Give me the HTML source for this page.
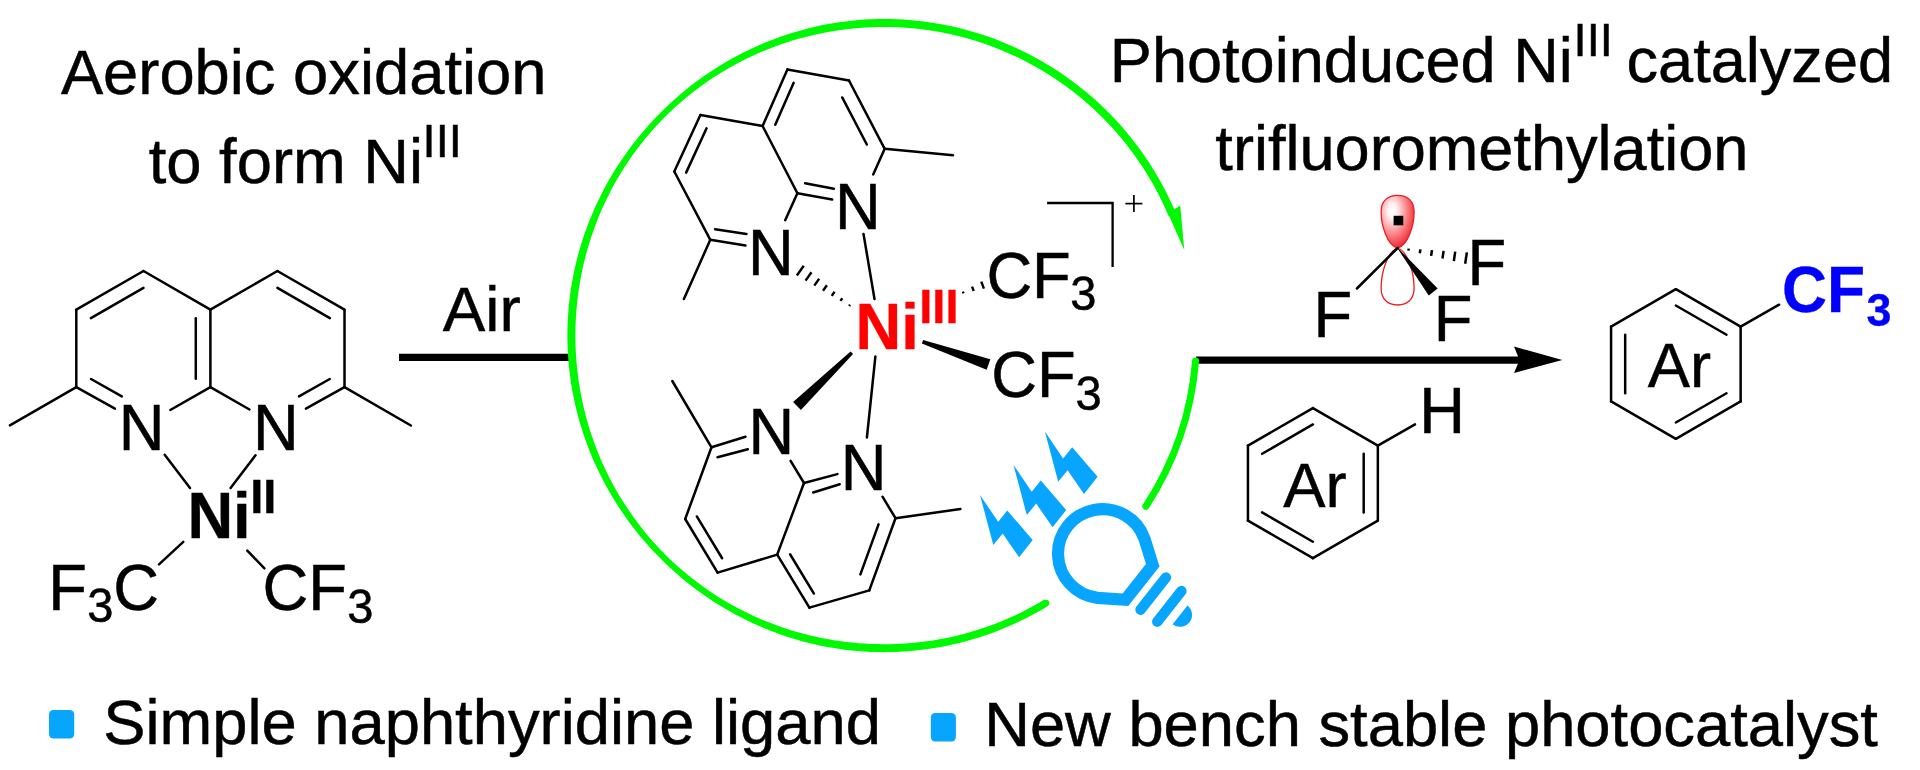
<!DOCTYPE html>
<html><head><meta charset="utf-8"><title>Ni(III) photocatalyst</title>
<style>html,body{margin:0;padding:0;background:#fff;overflow:hidden}svg{display:block;will-change:transform}text{font-kerning:none;white-space:pre;font-family:"Liberation Sans",sans-serif}</style>
</head><body>
<svg width="1920" height="770" viewBox="0 0 1920 770">
<rect width="1920" height="770" fill="#fff"/>
<text transform="translate(60.90,93.70)" font-size="63.3" stroke="#000" stroke-width="0.5">Aerobic oxidation</text>
<text transform="translate(148.75,183.30)" font-size="63.3" stroke="#000" stroke-width="0.5">to form Ni<tspan x="273.85" y="-26.50" font-size="47.0">III</tspan></text>
<text transform="translate(1109.80,81.80)" font-size="63.1" stroke="#000" stroke-width="0.5">Photoinduced Ni<tspan x="463.80" y="-25.40" font-size="47.0">III</tspan><tspan x="499.20" y="0.00" font-size="63.1"> catalyzed</tspan></text>
<text transform="translate(1215.35,170.20)" font-size="63.1" stroke="#000" stroke-width="0.5">trifluoromethylation</text>
<rect x="49" y="710" width="25.2" height="28.6" rx="4.5" fill="#08a5ff"/>
<rect x="930.8" y="713" width="25.1" height="28.6" rx="4.5" fill="#08a5ff"/>
<text transform="translate(103.25,743.75)" font-size="63.3" stroke="#000" stroke-width="0.5">Simple naphthyridine ligand</text>
<text transform="translate(984.20,746.00)" font-size="63.3" stroke="#000" stroke-width="0.5">New bench stable photocatalyst</text>
<line x1="76.30" y1="309.70" x2="143.50" y2="271.00" stroke="#000" stroke-width="2.5" stroke-linecap="round"/>
<line x1="143.50" y1="271.00" x2="210.40" y2="309.70" stroke="#000" stroke-width="2.5" stroke-linecap="round"/>
<line x1="210.40" y1="309.70" x2="210.40" y2="387.10" stroke="#000" stroke-width="2.5" stroke-linecap="round"/>
<line x1="76.30" y1="309.70" x2="76.30" y2="387.10" stroke="#000" stroke-width="2.5" stroke-linecap="round"/>
<line x1="210.40" y1="309.70" x2="277.40" y2="271.00" stroke="#000" stroke-width="2.5" stroke-linecap="round"/>
<line x1="277.40" y1="271.00" x2="344.50" y2="309.70" stroke="#000" stroke-width="2.5" stroke-linecap="round"/>
<line x1="344.50" y1="309.70" x2="344.50" y2="387.10" stroke="#000" stroke-width="2.5" stroke-linecap="round"/>
<line x1="76.30" y1="387.10" x2="114.90" y2="408.60" stroke="#000" stroke-width="2.5" stroke-linecap="round"/>
<line x1="210.40" y1="387.10" x2="170.30" y2="410.00" stroke="#000" stroke-width="2.5" stroke-linecap="round"/>
<line x1="210.40" y1="387.10" x2="249.50" y2="409.50" stroke="#000" stroke-width="2.5" stroke-linecap="round"/>
<line x1="344.50" y1="387.10" x2="305.90" y2="408.60" stroke="#000" stroke-width="2.5" stroke-linecap="round"/>
<line x1="90.93" y1="318.14" x2="143.48" y2="287.87" stroke="#000" stroke-width="2.5" stroke-linecap="round"/>
<line x1="277.40" y1="287.87" x2="329.87" y2="318.14" stroke="#000" stroke-width="2.5" stroke-linecap="round"/>
<line x1="195.79" y1="318.14" x2="195.79" y2="378.66" stroke="#000" stroke-width="2.5" stroke-linecap="round"/>
<line x1="91.00" y1="379.00" x2="121.80" y2="396.40" stroke="#000" stroke-width="2.5" stroke-linecap="round"/>
<line x1="329.80" y1="379.00" x2="299.00" y2="396.40" stroke="#000" stroke-width="2.5" stroke-linecap="round"/>
<line x1="76.30" y1="387.10" x2="9.90" y2="425.30" stroke="#000" stroke-width="2.5" stroke-linecap="round"/>
<line x1="344.50" y1="387.10" x2="410.90" y2="425.50" stroke="#000" stroke-width="2.5" stroke-linecap="round"/>
<line x1="164.70" y1="454.70" x2="190.00" y2="487.90" stroke="#000" stroke-width="2.5" stroke-linecap="round"/>
<line x1="255.50" y1="455.30" x2="230.60" y2="487.90" stroke="#000" stroke-width="2.5" stroke-linecap="round"/>
<line x1="183.30" y1="541.80" x2="159.00" y2="564.30" stroke="#000" stroke-width="2.5" stroke-linecap="round"/>
<line x1="247.30" y1="550.60" x2="264.40" y2="568.30" stroke="#000" stroke-width="2.5" stroke-linecap="round"/>
<text transform="translate(118.85,450.00) scale(1,1.036)" font-size="63.3" stroke="#000" stroke-width="0.5">N</text>
<text transform="translate(252.95,450.00) scale(1,1.036)" font-size="63.3" stroke="#000" stroke-width="0.5">N</text>
<text transform="translate(187.40,538.40) scale(1,1.02)" font-size="63.3" font-weight="bold" stroke="#000" stroke-width="0.35">Ni<tspan x="62.90" y="-24.51" font-size="47.0">II</tspan></text>
<text transform="translate(48.15,609.80) scale(1,1.036)" font-size="63.3" stroke="#000" stroke-width="0.5">F<tspan x="39.15" y="11.97" font-size="47.0">3</tspan><tspan x="65.15" y="0.00" font-size="63.3">C</tspan></text>
<text transform="translate(262.60,610.20) scale(1,1.036)" font-size="63.3" stroke="#000" stroke-width="0.5">CF<tspan x="84.70" y="11.87" font-size="47.0">3</tspan></text>
<line x1="399.00" y1="357.40" x2="569.00" y2="357.40" stroke="#000" stroke-width="7.1" stroke-linecap="butt"/>
<text transform="translate(442.80,331.00)" font-size="63.8" stroke="#000" stroke-width="0.5">Air</text>
<line x1="1196.00" y1="360.20" x2="1525.00" y2="360.20" stroke="#000" stroke-width="7.2" stroke-linecap="butt"/>
<polygon points="1562.30,359.90 1514.00,346.60 1519.50,359.90 1514.00,372.90" fill="#000"/>
<path d="M1047.83,606.11 L1042.32,609.38 L1036.75,612.54 L1031.11,615.59 L1025.42,618.52 L1019.66,621.34 L1013.85,624.03 L1007.99,626.62 L1002.08,629.08 L996.11,631.42 L990.10,633.64 L984.05,635.74 L977.95,637.71 L971.82,639.56 L965.65,641.29 L959.44,642.89 L953.21,644.37 L946.94,645.72 L940.65,646.94 L934.34,648.03 L928.00,649.00 L921.64,649.84 L915.27,650.55 L908.89,651.13 L902.50,651.58 L896.09,651.90 L889.69,652.09 L883.27,652.20 L876.86,652.12 L870.45,651.90 L864.05,651.56 L857.66,651.08 L851.28,650.47 L844.91,649.72 L838.56,648.85 L832.23,647.84 L825.92,646.71 L819.63,645.44 L813.38,644.05 L807.15,642.53 L800.96,640.88 L794.81,639.10 L788.69,637.20 L782.61,635.18 L776.58,633.03 L770.59,630.76 L764.65,628.37 L758.76,625.86 L752.92,623.23 L747.14,620.48 L741.41,617.62 L735.75,614.64 L730.14,611.56 L724.60,608.36 L719.13,605.05 L713.72,601.63 L708.38,598.10 L703.11,594.47 L697.92,590.74 L692.81,586.90 L687.77,582.96 L682.81,578.93 L677.93,574.79 L673.13,570.56 L668.42,566.24 L663.80,561.83 L659.26,557.32 L654.82,552.72 L650.46,548.04 L646.20,543.27 L642.04,538.42 L637.97,533.49 L634.00,528.48 L630.13,523.39 L626.36,518.22 L622.69,512.98 L619.13,507.66 L615.68,502.28 L612.33,496.82 L609.10,491.31 L605.97,485.72 L602.96,480.08 L600.06,474.37 L597.27,468.61 L594.60,462.79 L592.05,456.91 L589.62,450.99 L587.31,445.02 L585.12,439.00 L583.06,432.93 L581.12,426.83 L579.30,420.69 L577.61,414.51 L576.04,408.29 L574.61,402.05 L573.30,395.77 L572.12,389.47 L571.07,383.15 L570.15,376.80 L569.37,370.44 L568.71,364.06 L568.19,357.67 L567.80,351.27 L567.54,344.87 L567.41,338.45 L567.42,332.04 L567.56,325.63 L567.83,319.23 L568.24,312.83 L568.78,306.44 L569.45,300.06 L570.25,293.70 L571.18,287.36 L572.24,281.04 L573.44,274.74 L574.76,268.47 L576.21,262.23 L577.79,256.02 L579.49,249.84 L581.32,243.70 L583.28,237.60 L585.36,231.54 L587.56,225.53 L589.88,219.56 L592.33,213.64 L594.89,207.77 L597.57,201.96 L600.37,196.20 L603.28,190.50 L606.31,184.86 L609.44,179.29 L612.69,173.77 L616.05,168.33 L619.52,162.95 L623.09,157.65 L626.77,152.41 L630.55,147.25 L634.43,142.17 L638.41,137.17 L642.49,132.24 L646.66,127.40 L650.93,122.64 L655.30,117.97 L659.75,113.38 L664.30,108.89 L668.93,104.48 L673.65,100.17 L678.46,95.95 L683.35,91.83 L688.31,87.80 L693.36,83.87 L698.49,80.05 L703.69,76.33 L708.96,72.71 L714.31,69.19 L719.72,65.79 L725.20,62.49 L730.75,59.30 L736.36,56.22 L742.04,53.26 L747.77,50.41 L753.56,47.68 L759.40,45.06 L765.30,42.57 L771.24,40.19 L777.24,37.93 L783.27,35.80 L789.36,33.78 L795.48,31.90 L801.64,30.14 L807.83,28.50 L814.06,26.99 L820.32,25.61 L826.61,24.36 L832.92,23.24 L839.25,22.25 L845.61,21.39 L851.97,20.66 L858.36,20.06 L864.75,19.60 L871.16,19.27 L877.57,19.07 L883.98,19.00 L890.39,19.07 L896.80,19.26 L903.20,19.59 L909.60,20.04 L915.98,20.63 L922.35,21.34 L928.71,22.19 L935.05,23.16 L941.36,24.26 L947.66,25.48 L953.92,26.84 L960.16,28.32 L966.37,29.93 L972.54,31.66 L978.68,33.52 L984.78,35.50 L990.83,37.60 L996.85,39.83 L1002.81,42.17 L1008.73,44.64 L1014.60,47.23 L1020.41,49.94 L1026.16,52.76 L1031.86,55.70 L1037.50,58.75 L1043.07,61.92 L1048.58,65.20 L1054.02,68.59 L1059.40,72.09 L1064.70,75.69 L1069.92,79.41 L1075.07,83.23 L1080.14,87.15 L1085.13,91.17 L1090.04,95.30 L1094.86,99.52 L1099.60,103.84 L1104.25,108.26 L1108.80,112.76 L1113.27,117.36 L1117.64,122.05 L1121.92,126.83 L1126.09,131.69 L1130.17,136.64 L1134.15,141.67 L1138.03,146.77 L1141.80,151.96 L1145.46,157.22 L1149.02,162.55 L1152.47,167.95 L1155.81,173.42 L1159.03,178.96 L1162.15,184.57 L1165.15,190.23 L1168.03,195.95 L1170.80,201.74 L1173.45,207.57 L1175.98,213.46 L1168.79,216.47 L1166.32,210.73 L1163.73,205.04 L1161.02,199.40 L1158.21,193.82 L1155.28,188.30 L1152.24,182.83 L1149.09,177.43 L1145.83,172.10 L1142.46,166.83 L1138.99,161.63 L1135.41,156.50 L1131.73,151.45 L1127.95,146.47 L1124.07,141.57 L1120.09,136.75 L1116.01,132.01 L1111.84,127.35 L1107.58,122.78 L1103.22,118.30 L1098.77,113.91 L1094.24,109.60 L1089.62,105.39 L1084.91,101.28 L1080.12,97.26 L1075.26,93.34 L1070.31,89.52 L1065.29,85.80 L1060.19,82.18 L1055.02,78.66 L1049.78,75.25 L1044.47,71.95 L1039.10,68.76 L1033.66,65.67 L1028.16,62.70 L1022.61,59.83 L1016.99,57.09 L1011.33,54.45 L1005.60,51.93 L999.83,49.53 L994.02,47.24 L988.15,45.08 L982.25,43.03 L976.30,41.10 L970.32,39.29 L964.30,37.61 L958.25,36.04 L952.17,34.60 L946.06,33.29 L939.92,32.09 L933.76,31.02 L927.58,30.08 L921.39,29.26 L915.18,28.57 L908.95,28.00 L902.72,27.56 L896.47,27.25 L890.23,27.06 L883.98,27.00 L877.73,27.06 L871.48,27.25 L865.24,27.56 L859.00,27.99 L852.78,28.55 L846.56,29.23 L840.36,30.03 L834.18,30.96 L828.02,32.00 L821.88,33.18 L815.76,34.47 L809.67,35.88 L803.60,37.42 L797.57,39.08 L791.57,40.86 L785.61,42.76 L779.69,44.78 L773.81,46.92 L767.97,49.17 L762.18,51.55 L756.44,54.04 L750.75,56.65 L745.11,59.37 L739.53,62.21 L734.00,65.16 L728.54,68.23 L723.14,71.41 L717.81,74.69 L712.55,78.09 L707.35,81.60 L702.23,85.21 L697.19,88.92 L692.22,92.74 L687.33,96.66 L682.52,100.69 L677.80,104.81 L673.16,109.03 L668.62,113.34 L664.16,117.75 L659.79,122.25 L655.52,126.83 L651.35,131.51 L647.27,136.27 L643.29,141.11 L639.42,146.04 L635.64,151.04 L631.97,156.12 L628.41,161.27 L624.95,166.50 L621.60,171.80 L618.37,177.16 L615.24,182.59 L612.22,188.08 L609.32,193.63 L606.54,199.23 L603.86,204.90 L601.31,210.61 L598.87,216.37 L596.54,222.19 L594.34,228.04 L592.26,233.94 L590.29,239.88 L588.44,245.86 L586.72,251.88 L585.12,257.92 L583.63,264.00 L582.27,270.10 L581.03,276.23 L579.92,282.38 L578.92,288.55 L578.05,294.74 L577.31,300.95 L576.68,307.17 L576.18,313.40 L575.80,319.64 L575.55,325.88 L575.42,332.13 L575.41,338.38 L575.53,344.63 L575.77,350.88 L576.13,357.12 L576.62,363.35 L577.23,369.57 L577.97,375.78 L578.82,381.97 L579.80,388.14 L580.91,394.30 L582.13,400.43 L583.48,406.54 L584.95,412.62 L586.54,418.66 L588.25,424.68 L590.08,430.66 L592.03,436.61 L594.11,442.51 L596.30,448.37 L598.61,454.19 L601.03,459.96 L603.58,465.68 L606.24,471.35 L609.01,476.96 L611.90,482.52 L614.90,488.02 L618.02,493.45 L621.24,498.82 L624.58,504.12 L628.03,509.36 L631.58,514.52 L635.23,519.61 L639.00,524.62 L642.86,529.55 L646.83,534.40 L650.90,539.17 L655.06,543.86 L659.32,548.46 L663.68,552.96 L668.12,557.38 L672.66,561.71 L677.29,565.93 L682.00,570.07 L686.80,574.10 L691.68,578.03 L696.64,581.86 L701.68,585.59 L706.79,589.21 L711.97,592.73 L717.23,596.14 L722.56,599.44 L727.95,602.63 L733.40,605.71 L738.92,608.67 L744.50,611.52 L750.13,614.26 L755.81,616.88 L761.55,619.39 L767.34,621.77 L773.17,624.04 L779.05,626.19 L784.96,628.23 L790.92,630.14 L796.91,631.93 L802.94,633.60 L809.00,635.15 L815.09,636.58 L821.20,637.89 L827.34,639.07 L833.50,640.14 L839.69,641.08 L845.88,641.89 L852.10,642.58 L858.32,643.15 L864.55,643.60 L870.80,643.92 L877.04,644.12 L883.29,644.20 L889.54,644.21 L895.79,644.05 L902.04,643.75 L908.28,643.34 L914.50,642.79 L920.72,642.12 L926.92,641.33 L933.11,640.41 L939.27,639.36 L945.41,638.19 L951.53,636.90 L957.62,635.48 L963.68,633.94 L969.71,632.27 L975.71,630.49 L981.66,628.58 L987.58,626.55 L993.45,624.40 L999.28,622.14 L1005.07,619.76 L1010.80,617.26 L1016.49,614.64 L1022.11,611.91 L1027.69,609.07 L1033.20,606.11 L1038.65,603.04 L1044.04,599.86 Z" fill="#00f900"/>
<circle cx="1045.94" cy="602.99" r="3.3" fill="#00f900"/>
<polygon points="1184.30,250.00 1168.00,213.30 1180.20,205.60" fill="#00f900"/>
<path d="M1195.57,361.00 A312.6,312.6 0 0 1 1145.87,506.31" fill="none" stroke="#00f900" stroke-width="7.0" stroke-linecap="round"/>
<line x1="787.40" y1="69.40" x2="849.00" y2="80.50" stroke="#000" stroke-width="2.5" stroke-linecap="round"/>
<line x1="849.00" y1="80.50" x2="884.70" y2="148.80" stroke="#000" stroke-width="2.5" stroke-linecap="round"/>
<line x1="762.60" y1="126.00" x2="787.40" y2="69.40" stroke="#000" stroke-width="2.5" stroke-linecap="round"/>
<line x1="762.60" y1="126.00" x2="797.40" y2="193.20" stroke="#000" stroke-width="2.5" stroke-linecap="round"/>
<line x1="700.40" y1="115.00" x2="762.60" y2="126.00" stroke="#000" stroke-width="2.5" stroke-linecap="round"/>
<line x1="700.40" y1="115.00" x2="674.30" y2="171.50" stroke="#000" stroke-width="2.5" stroke-linecap="round"/>
<line x1="674.30" y1="171.50" x2="710.30" y2="239.80" stroke="#000" stroke-width="2.5" stroke-linecap="round"/>
<line x1="884.70" y1="148.80" x2="873.20" y2="174.40" stroke="#000" stroke-width="2.5" stroke-linecap="round"/>
<line x1="797.40" y1="193.20" x2="832.20" y2="199.60" stroke="#000" stroke-width="2.5" stroke-linecap="round"/>
<line x1="797.40" y1="193.20" x2="785.20" y2="220.20" stroke="#000" stroke-width="2.5" stroke-linecap="round"/>
<line x1="710.30" y1="239.80" x2="745.50" y2="245.50" stroke="#000" stroke-width="2.5" stroke-linecap="round"/>
<line x1="884.70" y1="148.80" x2="953.00" y2="155.30" stroke="#000" stroke-width="2.5" stroke-linecap="round"/>
<line x1="710.30" y1="239.80" x2="683.90" y2="299.00" stroke="#000" stroke-width="2.5" stroke-linecap="round"/>
<line x1="775.26" y1="124.82" x2="793.67" y2="82.81" stroke="#000" stroke-width="2.5" stroke-linecap="round"/>
<line x1="842.20" y1="97.44" x2="866.82" y2="144.54" stroke="#000" stroke-width="2.5" stroke-linecap="round"/>
<line x1="805.10" y1="183.20" x2="833.90" y2="188.70" stroke="#000" stroke-width="2.5" stroke-linecap="round"/>
<line x1="706.57" y1="128.35" x2="686.12" y2="172.64" stroke="#000" stroke-width="2.5" stroke-linecap="round"/>
<line x1="715.10" y1="229.19" x2="746.50" y2="233.90" stroke="#000" stroke-width="2.5" stroke-linecap="round"/>
<line x1="809.40" y1="607.60" x2="869.30" y2="590.40" stroke="#000" stroke-width="2.5" stroke-linecap="round"/>
<line x1="869.30" y1="590.40" x2="895.50" y2="518.20" stroke="#000" stroke-width="2.5" stroke-linecap="round"/>
<line x1="777.20" y1="554.60" x2="809.40" y2="607.60" stroke="#000" stroke-width="2.5" stroke-linecap="round"/>
<line x1="777.20" y1="554.60" x2="804.00" y2="483.00" stroke="#000" stroke-width="2.5" stroke-linecap="round"/>
<line x1="717.60" y1="572.60" x2="777.20" y2="554.60" stroke="#000" stroke-width="2.5" stroke-linecap="round"/>
<line x1="717.60" y1="572.60" x2="685.20" y2="519.00" stroke="#000" stroke-width="2.5" stroke-linecap="round"/>
<line x1="685.20" y1="519.00" x2="711.50" y2="447.30" stroke="#000" stroke-width="2.5" stroke-linecap="round"/>
<line x1="895.50" y1="518.20" x2="882.50" y2="496.70" stroke="#000" stroke-width="2.5" stroke-linecap="round"/>
<line x1="804.00" y1="483.00" x2="837.40" y2="474.10" stroke="#000" stroke-width="2.5" stroke-linecap="round"/>
<line x1="804.00" y1="483.00" x2="790.60" y2="460.90" stroke="#000" stroke-width="2.5" stroke-linecap="round"/>
<line x1="711.50" y1="447.30" x2="745.50" y2="436.70" stroke="#000" stroke-width="2.5" stroke-linecap="round"/>
<line x1="895.50" y1="518.20" x2="960.40" y2="509.00" stroke="#000" stroke-width="2.5" stroke-linecap="round"/>
<line x1="711.50" y1="447.30" x2="672.30" y2="381.00" stroke="#000" stroke-width="2.5" stroke-linecap="round"/>
<line x1="790.06" y1="554.27" x2="813.92" y2="593.55" stroke="#000" stroke-width="2.5" stroke-linecap="round"/>
<line x1="860.40" y1="574.39" x2="878.55" y2="524.37" stroke="#000" stroke-width="2.5" stroke-linecap="round"/>
<line x1="813.20" y1="492.50" x2="839.70" y2="484.20" stroke="#000" stroke-width="2.5" stroke-linecap="round"/>
<line x1="722.11" y1="558.26" x2="696.82" y2="516.44" stroke="#000" stroke-width="2.5" stroke-linecap="round"/>
<line x1="717.56" y1="457.18" x2="747.80" y2="449.20" stroke="#000" stroke-width="2.5" stroke-linecap="round"/>
<line x1="863.50" y1="233.90" x2="874.50" y2="299.00" stroke="#000" stroke-width="2.5" stroke-linecap="round"/>
<line x1="875.40" y1="356.40" x2="866.90" y2="437.50" stroke="#000" stroke-width="2.5" stroke-linecap="round"/>
<line x1="796.84" y1="275.50" x2="803.76" y2="265.70" stroke="#000" stroke-width="2.4" stroke-linecap="butt"/>
<line x1="805.56" y1="280.59" x2="811.47" y2="272.21" stroke="#000" stroke-width="2.4" stroke-linecap="butt"/>
<line x1="814.28" y1="285.67" x2="819.18" y2="278.73" stroke="#000" stroke-width="2.4" stroke-linecap="butt"/>
<line x1="823.00" y1="290.76" x2="826.90" y2="285.24" stroke="#000" stroke-width="2.4" stroke-linecap="butt"/>
<line x1="831.72" y1="295.84" x2="834.61" y2="291.76" stroke="#000" stroke-width="2.4" stroke-linecap="butt"/>
<line x1="840.45" y1="300.93" x2="842.32" y2="298.27" stroke="#000" stroke-width="2.4" stroke-linecap="butt"/>
<line x1="849.17" y1="306.01" x2="850.03" y2="304.79" stroke="#000" stroke-width="2.4" stroke-linecap="butt"/>
<line x1="963.56" y1="293.43" x2="962.84" y2="291.57" stroke="#000" stroke-width="2.4" stroke-linecap="butt"/>
<line x1="973.75" y1="291.02" x2="972.05" y2="286.58" stroke="#000" stroke-width="2.4" stroke-linecap="butt"/>
<line x1="983.94" y1="288.60" x2="981.26" y2="281.60" stroke="#000" stroke-width="2.4" stroke-linecap="butt"/>
<polygon points="850.54,351.41 793.10,401.99 800.90,410.01 853.06,353.99" fill="#000"/>
<polygon points="921.91,343.40 986.67,369.79 990.33,359.21 923.09,340.00" fill="#000"/>
<text transform="translate(834.95,229.10) scale(1,1.036)" font-size="63.3" stroke="#000" stroke-width="0.5">N</text>
<text transform="translate(747.95,274.60) scale(1,1.036)" font-size="63.3" stroke="#000" stroke-width="0.5">N</text>
<text transform="translate(748.45,454.10) scale(1,1.036)" font-size="63.3" stroke="#000" stroke-width="0.5">N</text>
<text transform="translate(840.65,489.60) scale(1,1.036)" font-size="63.3" stroke="#000" stroke-width="0.5">N</text>
<text transform="translate(855.50,348.60) scale(1,1.02)" font-size="63.3" font-weight="bold" fill="#ff0000" stroke="#ff0000" stroke-width="0.35">Ni<tspan x="63.80" y="-25.10" font-size="47.0">III</tspan></text>
<text transform="translate(986.40,297.50) scale(1,1.036)" font-size="63.3" stroke="#000" stroke-width="0.5">CF<tspan x="83.90" y="12.36" font-size="47.0">3</tspan></text>
<text transform="translate(991.30,397.30) scale(1,1.036)" font-size="63.3" stroke="#000" stroke-width="0.5">CF<tspan x="84.20" y="12.45" font-size="47.0">3</tspan></text>
<polyline points="1047.1,203 1112.6,203 1112.6,267.1" fill="none" stroke="#000" stroke-width="2.3"/>
<line x1="1125.40" y1="203.60" x2="1142.40" y2="203.60" stroke="#000" stroke-width="1.7" stroke-linecap="butt"/>
<line x1="1133.90" y1="195.10" x2="1133.90" y2="212.10" stroke="#000" stroke-width="1.7" stroke-linecap="butt"/>
<g fill="#08a5ff">
<polygon points="980.0,494.9 998.2,521.8 1007.3,510.5 1032.7,540.0 1019.1,557.3 1002.7,533.6 993.3,545.1"/>
<polygon points="1013.5,464.9 1031.7,491.8 1040.8,480.5 1066.2,510.0 1052.6,527.3 1036.2,503.6 1026.8,515.1"/>
<polygon points="1044.9,431.6 1063.1,458.5 1072.2,447.2 1097.6,476.7 1084.0,494.0 1067.6,470.3 1058.2,481.8"/>
</g>
<g transform="translate(1103,554) rotate(38.3)" fill="none" stroke="#08a5ff" stroke-width="12.2">
<path d="M22.9,-37.8 A44.5,44.5 0 1 0 22.9,37.8 L46,22 L46,-22 Z" stroke-linejoin="miter"/>
<line x1="64" y1="-20.5" x2="64" y2="20.5" stroke-width="10.4" stroke-linecap="round"/>
<line x1="84.5" y1="-19.5" x2="84.5" y2="19.5" stroke-width="10.4" stroke-linecap="round"/>
<path d="M98.2,-12 A12,12 0 0 1 98.2,12 Z" fill="#08a5ff" stroke="none"/>
</g>
<defs><radialGradient id="lg" cx="0.34" cy="0.30" r="0.72"><stop offset="0" stop-color="#fff"/><stop offset="0.18" stop-color="#fff4f4"/><stop offset="0.45" stop-color="#fcaeb0"/><stop offset="0.75" stop-color="#f6646a"/><stop offset="1" stop-color="#ee2a32"/></radialGradient></defs>
<path d="M1397.6,248.0 C1386.88,251.20 1381.10,274.00 1381.10,288.00 C1381.10,299.56 1388.03,305.00 1397.6,305.00 C1407.17,305.00 1414.10,299.56 1414.10,288.00 C1414.10,274.00 1408.32,251.20 1397.6,248.0 Z" fill="#fff" stroke="#ec1c24" stroke-width="1.3"/>
<path d="M1397.6,248.0 C1386.88,245.12 1381.10,224.60 1381.10,212.00 C1381.10,200.64 1388.03,195.30 1397.6,195.30 C1407.17,195.30 1414.10,200.64 1414.10,212.00 C1414.10,224.60 1408.32,245.12 1397.6,248.0 Z" fill="url(#lg)" stroke="#ec1c24" stroke-width="1.3"/>
<rect x="1393.6" y="215.8" width="9.7" height="9.5" fill="#000"/>
<line x1="1397.60" y1="248.00" x2="1356.90" y2="288.50" stroke="#000" stroke-width="2.5" stroke-linecap="round"/>
<polygon points="1397.41,248.16 1428.73,295.62 1437.67,288.38 1397.79,247.84" fill="#000"/>
<line x1="1408.45" y1="250.59" x2="1408.75" y2="248.61" stroke="#000" stroke-width="2.5" stroke-linecap="butt"/>
<line x1="1419.79" y1="253.23" x2="1420.37" y2="249.37" stroke="#000" stroke-width="2.5" stroke-linecap="butt"/>
<line x1="1431.14" y1="255.87" x2="1431.98" y2="250.13" stroke="#000" stroke-width="2.5" stroke-linecap="butt"/>
<line x1="1442.48" y1="258.51" x2="1443.60" y2="250.89" stroke="#000" stroke-width="2.5" stroke-linecap="butt"/>
<line x1="1453.82" y1="261.15" x2="1455.22" y2="251.65" stroke="#000" stroke-width="2.5" stroke-linecap="butt"/>
<line x1="1465.16" y1="263.79" x2="1466.84" y2="252.41" stroke="#000" stroke-width="2.5" stroke-linecap="butt"/>
<text transform="translate(1313.45,336.50) scale(1,1.036)" font-size="63.3" stroke="#000" stroke-width="0.5">F</text>
<text transform="translate(1433.85,340.80) scale(1,1.036)" font-size="63.3" stroke="#000" stroke-width="0.5">F</text>
<text transform="translate(1467.45,285.00) scale(1,1.036)" font-size="63.3" stroke="#000" stroke-width="0.5">F</text>
<line x1="1312.90" y1="408.10" x2="1377.85" y2="445.60" stroke="#000" stroke-width="2.5" stroke-linecap="round"/>
<line x1="1377.85" y1="445.60" x2="1377.85" y2="520.60" stroke="#000" stroke-width="2.5" stroke-linecap="round"/>
<line x1="1377.85" y1="520.60" x2="1312.90" y2="558.10" stroke="#000" stroke-width="2.5" stroke-linecap="round"/>
<line x1="1312.90" y1="558.10" x2="1247.95" y2="520.60" stroke="#000" stroke-width="2.5" stroke-linecap="round"/>
<line x1="1247.95" y1="520.60" x2="1247.95" y2="445.60" stroke="#000" stroke-width="2.5" stroke-linecap="round"/>
<line x1="1247.95" y1="445.60" x2="1312.90" y2="408.10" stroke="#000" stroke-width="2.5" stroke-linecap="round"/>
<line x1="1262.11" y1="453.78" x2="1312.90" y2="424.45" stroke="#000" stroke-width="2.5" stroke-linecap="round"/>
<line x1="1363.69" y1="453.78" x2="1363.69" y2="512.43" stroke="#000" stroke-width="2.5" stroke-linecap="round"/>
<line x1="1312.90" y1="541.75" x2="1262.11" y2="512.43" stroke="#000" stroke-width="2.5" stroke-linecap="round"/>
<line x1="1377.85" y1="445.60" x2="1415.00" y2="424.30" stroke="#000" stroke-width="2.5" stroke-linecap="round"/>
<text transform="translate(1419.35,432.90) scale(1,1.036)" font-size="63.3" stroke="#000" stroke-width="0.5">H</text>
<text transform="translate(1283.20,506.80)" font-size="63.3" stroke="#000" stroke-width="0.5">Ar</text>
<line x1="1675.85" y1="289.20" x2="1740.63" y2="326.60" stroke="#000" stroke-width="2.5" stroke-linecap="round"/>
<line x1="1740.63" y1="326.60" x2="1740.63" y2="401.40" stroke="#000" stroke-width="2.5" stroke-linecap="round"/>
<line x1="1740.63" y1="401.40" x2="1675.85" y2="438.80" stroke="#000" stroke-width="2.5" stroke-linecap="round"/>
<line x1="1675.85" y1="438.80" x2="1611.07" y2="401.40" stroke="#000" stroke-width="2.5" stroke-linecap="round"/>
<line x1="1611.07" y1="401.40" x2="1611.07" y2="326.60" stroke="#000" stroke-width="2.5" stroke-linecap="round"/>
<line x1="1611.07" y1="326.60" x2="1675.85" y2="289.20" stroke="#000" stroke-width="2.5" stroke-linecap="round"/>
<line x1="1675.85" y1="305.51" x2="1726.51" y2="334.75" stroke="#000" stroke-width="2.5" stroke-linecap="round"/>
<line x1="1726.51" y1="393.25" x2="1675.85" y2="422.49" stroke="#000" stroke-width="2.5" stroke-linecap="round"/>
<line x1="1625.19" y1="393.25" x2="1625.19" y2="334.75" stroke="#000" stroke-width="2.5" stroke-linecap="round"/>
<line x1="1740.63" y1="326.60" x2="1779.10" y2="304.70" stroke="#000" stroke-width="2.5" stroke-linecap="round"/>
<text transform="translate(1647.70,386.90)" font-size="63.3" stroke="#000" stroke-width="0.5">Ar</text>
<text transform="translate(1782.10,312.20) scale(1,1.036)" font-size="62.3" font-weight="bold" fill="#0000ff" stroke="#0000ff" stroke-width="0.35">CF<tspan x="84.50" y="13.13" font-size="44.8">3</tspan></text>
</svg>
</body></html>
